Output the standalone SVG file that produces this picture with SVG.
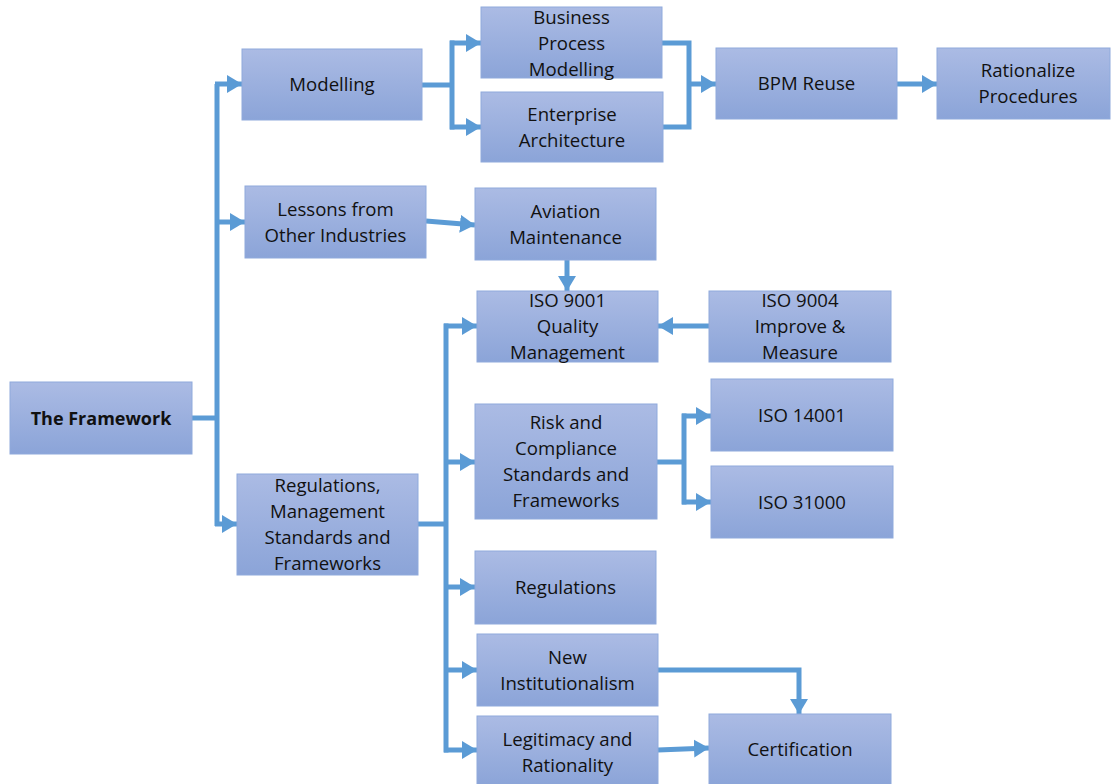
<svg xmlns="http://www.w3.org/2000/svg" width="1111" height="784" viewBox="0 0 1111 784">
  <style>
    .box { fill: url(#boxFill); stroke: #8faadc; stroke-width: 1; }
    .lbl { font-family: "Open Sans", "Noto Sans", sans-serif; font-size: 18.6px; fill: #111; text-anchor: middle; }
    .bold { font-weight: bold; font-size: 18px; }
    .wire { fill: none; stroke: #5b9bd5; stroke-width: 5; stroke-linejoin: miter; }
    .arr { marker-end: url(#head); }
  </style>
  <defs>
    <linearGradient id="boxFill" x1="0" y1="0" x2="0" y2="1">
      <stop offset="0" stop-color="#abbbe4"/>
      <stop offset="1" stop-color="#8ba4d8"/>
    </linearGradient>
    <marker id="head" markerUnits="userSpaceOnUse" markerWidth="16" markerHeight="20" refX="15" refY="10" orient="auto">
      <path d="M0,1 L15,10 L0,19 Z" fill="#5b9bd5"/>
    </marker>
  </defs>

  <rect width="1111" height="784" fill="#ffffff"/>

  <!-- connectors -->
  <g id="connectors">
    <!-- framework trunk -->
    <polyline class="wire" points="192,418 217,418"/>
    <polyline class="wire" points="217,526 217,84"/>
    <polyline class="wire arr" points="215,84 242,84"/>
    <polyline class="wire arr" points="215,222 245,222"/>
    <polyline class="wire arr" points="215,524 237,524"/>

    <!-- modelling split -->
    <polyline class="wire" points="422,85 452,85"/>
    <polyline class="wire" points="452,40.5 452,129.5"/>
    <polyline class="wire arr" points="450,43 481,43"/>
    <polyline class="wire arr" points="450,127 481,127"/>

    <!-- merge into BPM Reuse -->
    <polyline class="wire" points="662,43 689,43 689,127 663,127"/>
    <polyline class="wire arr" points="689,84 716,84"/>
    <polyline class="wire arr" points="897,84 937,84"/>

    <!-- lessons -> aviation -> ISO 9001 -->
    <polyline class="wire arr" points="426,221 475,225"/>
    <polyline class="wire arr" points="567,260 567,291"/>
    <polyline class="wire arr" points="709,326 658,326"/>

    <!-- regulations trunk -->
    <polyline class="wire" points="418,524 446,524"/>
    <polyline class="wire" points="446,323.5 446,752.5"/>
    <polyline class="wire arr" points="444,326 477,326"/>
    <polyline class="wire arr" points="444,462 475,462"/>
    <polyline class="wire arr" points="444,587 475,587"/>
    <polyline class="wire arr" points="444,670 477,670"/>
    <polyline class="wire arr" points="444,750 477,750"/>

    <!-- risk split -->
    <polyline class="wire" points="657,462 684,462"/>
    <polyline class="wire" points="684,413.5 684,504.5"/>
    <polyline class="wire arr" points="682,416 711,416"/>
    <polyline class="wire arr" points="682,502 711,502"/>

    <!-- into certification -->
    <polyline class="wire arr" points="658,670 799,670 799,714"/>
    <polyline class="wire arr" points="658,750 709,748"/>
  </g>

  <!-- nodes -->
  <g id="n-framework">
    <rect class="box" x="10" y="382" width="182" height="72"/>
    <text class="lbl bold" x="101" y="424.5">The Framework</text>
  </g>
  <g id="n-modelling">
    <rect class="box" x="242" y="49" width="180" height="71"/>
    <text class="lbl" x="332" y="91">Modelling</text>
  </g>
  <g id="n-bpm">
    <rect class="box" x="481" y="7" width="181" height="71"/>
    <text class="lbl" x="571.5" y="23.5">Business</text>
    <text class="lbl" x="571.5" y="49.5">Process</text>
    <text class="lbl" x="571.5" y="75.5">Modelling</text>
  </g>
  <g id="n-ea">
    <rect class="box" x="481" y="92" width="182" height="70"/>
    <text class="lbl" x="572" y="120.5">Enterprise</text>
    <text class="lbl" x="572" y="146.5">Architecture</text>
  </g>
  <g id="n-bpmreuse">
    <rect class="box" x="716" y="48" width="181" height="71"/>
    <text class="lbl" x="806.5" y="90">BPM Reuse</text>
  </g>
  <g id="n-rationalize">
    <rect class="box" x="937" y="48" width="173" height="71"/>
    <text class="lbl" x="1028" y="77">Rationalize</text>
    <text class="lbl" x="1028" y="103">Procedures</text>
  </g>
  <g id="n-lessons">
    <rect class="box" x="245" y="186" width="181" height="72"/>
    <text class="lbl" x="335.5" y="215.5">Lessons from</text>
    <text class="lbl" x="335.5" y="241.5">Other Industries</text>
  </g>
  <g id="n-aviation">
    <rect class="box" x="475" y="188" width="181" height="72"/>
    <text class="lbl" x="565.5" y="217.5">Aviation</text>
    <text class="lbl" x="565.5" y="243.5">Maintenance</text>
  </g>
  <g id="n-iso9001">
    <rect class="box" x="477" y="291" width="181" height="71"/>
    <text class="lbl" x="567.5" y="307">ISO 9001</text>
    <text class="lbl" x="567.5" y="333">Quality</text>
    <text class="lbl" x="567.5" y="359">Management</text>
  </g>
  <g id="n-iso9004">
    <rect class="box" x="709" y="291" width="182" height="71"/>
    <text class="lbl" x="800" y="307">ISO 9004</text>
    <text class="lbl" x="800" y="333">Improve &amp;</text>
    <text class="lbl" x="800" y="359">Measure</text>
  </g>
  <g id="n-risk">
    <rect class="box" x="475" y="404" width="182" height="115"/>
    <text class="lbl" x="566" y="429">Risk and</text>
    <text class="lbl" x="566" y="455">Compliance</text>
    <text class="lbl" x="566" y="481">Standards and</text>
    <text class="lbl" x="566" y="507">Frameworks</text>
  </g>
  <g id="n-iso14001">
    <rect class="box" x="711" y="379" width="182" height="72"/>
    <text class="lbl" x="802" y="422">ISO 14001</text>
  </g>
  <g id="n-iso31000">
    <rect class="box" x="711" y="466" width="182" height="72"/>
    <text class="lbl" x="802" y="509">ISO 31000</text>
  </g>
  <g id="n-regstd">
    <rect class="box" x="237" y="474" width="181" height="101"/>
    <text class="lbl" x="327.5" y="492">Regulations,</text>
    <text class="lbl" x="327.5" y="518">Management</text>
    <text class="lbl" x="327.5" y="544">Standards and</text>
    <text class="lbl" x="327.5" y="570">Frameworks</text>
  </g>
  <g id="n-regulations">
    <rect class="box" x="475" y="551" width="181" height="73"/>
    <text class="lbl" x="565.5" y="594">Regulations</text>
  </g>
  <g id="n-newinst">
    <rect class="box" x="477" y="634" width="181" height="72"/>
    <text class="lbl" x="567.5" y="664">New</text>
    <text class="lbl" x="567.5" y="690">Institutionalism</text>
  </g>
  <g id="n-legitimacy">
    <rect class="box" x="477" y="716" width="181" height="70"/>
    <text class="lbl" x="567.5" y="746">Legitimacy and</text>
    <text class="lbl" x="567.5" y="772">Rationality</text>
  </g>
  <g id="n-certification">
    <rect class="box" x="709" y="714" width="182" height="72"/>
    <text class="lbl" x="800" y="756">Certification</text>
  </g>
</svg>
